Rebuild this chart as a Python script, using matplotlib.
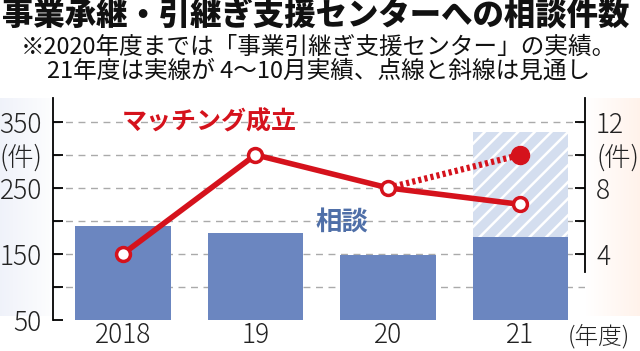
import matplotlib
matplotlib.use("Agg")
import matplotlib.pyplot as plt
import numpy as np

# ---- data ----
years = ["2018", "19", "20", "21"]
consult = [192, 182, 148, 176]          # 相談 (left axis, 件)
consult_forecast = 335                  # 21年度 見通し (hatched)
matching = [4, 10, 8, 7]                # マッチング成立 (right axis, 件)
matching_forecast = 10                  # 21年度 見通し (dotted)
left_ticks = [50, 100, 150, 200, 250, 300, 350]
left_labels = ["50", "", "150", "", "250", "(件)", "350"]
right_ticks = [4, 6, 8, 10, 12]
right_labels = ["4", "", "8", "(件)", "12"]

BAR = "#6b86c0"
BAR_LIGHT = "#d4deef"
RED = "#d5121c"
BLUE_TXT = "#4f6fa8"
NUM_FONT = ["Noto Sans CJK JP", "DejaVu Sans"]
JP = ["Noto Sans CJK JP", "DejaVu Sans"]

plt.rcParams["hatch.linewidth"] = 1.8

fig = plt.figure(figsize=(6.4, 3.51), dpi=100)
fig.patch.set_facecolor("white")

# subtle side gradients
bg = fig.add_axes([0, 0, 1, 1], zorder=-10)
bg.axis("off")
grad = np.ones((10, 640, 3))
xs = np.arange(640)
lb = np.clip(1 - (60 - xs) / 60, 0, 1)
rb = np.clip(1 - (xs - 585) / 55, 0, 1)
for c, (lc, rc) in enumerate(zip([0.94, 0.95, 0.98], [1.0, 0.95, 0.92])):
    grad[:, :, c] = np.where(xs < 60, lc + (1 - lc) * lb, np.where(xs > 585, rc + (1 - rc) * rb, 1.0))
bg.imshow(grad, extent=[0, 1, 0.1, 0.72], aspect="auto", transform=bg.transAxes)
bg.set_xlim(0, 1); bg.set_ylim(0, 1)

ax = fig.add_axes([53 / 640, 1 - 320 / 351, (585 - 53) / 640, (320 - 98) / 351])
ax.set_facecolor("none")
x = np.arange(len(years))
ax.set_xlim(-0.528, 3.487)
ax.set_ylim(50, 386)

# grid
for v in left_ticks[1:]:
    ax.axhline(v, color="#aaaaaa", lw=1.0, ls=(0, (5, 4)), zorder=0)

# hatched forecast bar
ax.bar(x[3], consult_forecast - consult[3], bottom=consult[3], width=0.72,
       color=BAR_LIGHT, edgecolor="white", hatch="//", lw=0, zorder=1)
ax.bar(x, np.array(consult) - 50, bottom=50, width=0.72, color=BAR, lw=0, zorder=2)

# right axis
ax2 = ax.twinx()
ax2.set_ylim(0, (386 - 50) / 25)
ax2.plot([x[2], x[3]], [matching[2], matching_forecast], color=RED, lw=4.5,
         ls=(0, (0.5, 0.5)), zorder=3, solid_capstyle="butt", dash_capstyle="butt")
ax2.plot(x, matching, color=RED, lw=4, zorder=4, marker="o", ms=10,
         mfc="white", mec=RED, mew=2.5)
ax2.plot(x[3], matching_forecast, marker="o", ms=13, color=RED, zorder=5)

# spines
for a in (ax, ax2):
    a.spines["top"].set_visible(False)
    a.spines["bottom"].set_visible(False)
ax.spines["right"].set_visible(False)
ax2.spines["left"].set_visible(False)
ax.spines["left"].set_linewidth(1.3)
ax2.spines["right"].set_linewidth(1.3)
ax2.spines["right"].set_bounds(2.9, (386 - 50) / 25)

ax.set_yticks(left_ticks)
ax.set_yticklabels(left_labels)
ax.tick_params(axis="y", direction="in", length=7, width=1.3, pad=8, labelsize=19)
for t in ax.get_yticklabels():
    t.set_family(NUM_FONT)
    t.set_fontweight("light")
    t.set_color("#222222")
ax2.set_yticks(right_ticks)
ax2.set_yticklabels(right_labels)
ax2.tick_params(axis="y", direction="in", length=7, width=1.3, pad=8, labelsize=19)
for t in ax2.get_yticklabels():
    t.set_family(NUM_FONT)
    t.set_fontweight("light")
    t.set_color("#222222")

ax.set_xticks(x)
ax.set_xticklabels(years)
ax.tick_params(axis="x", length=0, pad=1, labelsize=19)
for t in ax.get_xticklabels():
    t.set_family(NUM_FONT)
    t.set_fontweight("light")
    t.set_color("#222222")

fig.text(599 / 640, 1 - 337 / 351, "(年度)", fontsize=17, family=JP, ha="center",
         va="center", color="#222222", fontweight="light")

# labels in plot
fig.text(122 / 640, 1 - 122 / 351, "マッチング成立", fontsize=18, fontweight="bold",
         family=JP, color=RED, ha="left", va="center")
fig.text(342 / 640, 1 - 222 / 351, "相談", fontsize=19, fontweight="bold",
         family=JP, color=BLUE_TXT, ha="center", va="center")

# titles
fig.text(0.003, 1 - 15 / 351, "事業承継・引継ぎ支援センターへの相談件数", fontsize=22.6,
         fontweight="heavy", family=JP, color="#111111", ha="left", va="center")
fig.text(21 / 640, 1 - 47 / 351, "※2020年度までは「事業引継ぎ支援センター」の実績。",
         fontsize=17, family=JP, color="#111111", ha="left", va="center")
fig.text(47 / 640, 1 - 71 / 351, "21年度は実線が 4～10月実績、点線と斜線は見通し",
         fontsize=17, family=JP, color="#111111", ha="left", va="center")

fig.savefig("out.png", dpi=100)
